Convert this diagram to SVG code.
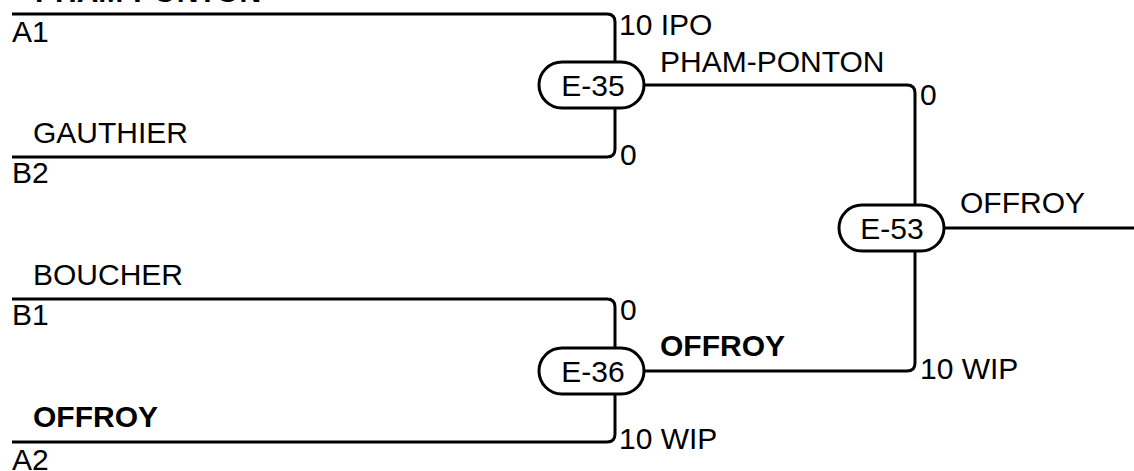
<svg xmlns="http://www.w3.org/2000/svg" width="1134" height="471" viewBox="0 0 1134 471">
<style>
.ln{fill:none;stroke:#000;stroke-width:3}
.pill{fill:#fff;stroke:#000;stroke-width:3}
text{font-family:"Liberation Sans",Arial,sans-serif;font-size:30px;fill:#000}
.b{font-weight:bold}
.c{text-anchor:middle}
</style>
<rect width="1134" height="471" fill="#fff"/>
<g id="connectors">
<path class="ln" d="M12,14 H607 Q615,14 615,22 V64"/>
<path class="ln" d="M12,157 H607 Q615,157 615,149 V106"/>
<path class="ln" d="M640,85 H907 Q915,85 915,93 V206"/>
<path class="ln" d="M640,371 H907 Q915,371 915,363 V250"/>
<path class="ln" d="M12,299 H607 Q615,299 615,307 V350"/>
<path class="ln" d="M12,442 H607 Q615,442 615,434 V392"/>
<path class="ln" d="M940,228 H1134"/>
</g>
<g id="labels">
<text x="35" y="2" class="b">PHAM-PONTON</text>
<text x="12" y="42">A1</text>
<text x="33" y="143">GAUTHIER</text>
<text x="12" y="183">B2</text>
<text x="33" y="285">BOUCHER</text>
<text x="12" y="325">B1</text>
<text x="33" y="427" class="b">OFFROY</text>
<text x="12" y="470">A2</text>
<text x="619" y="35">10 IPO</text>
<text x="660" y="72">PHAM-PONTON</text>
<text x="620" y="165">0</text>
<text x="620" y="320">0</text>
<text x="660" y="356" class="b">OFFROY</text>
<text x="619" y="449">10 WIP</text>
<text x="920" y="105">0</text>
<text x="960" y="213">OFFROY</text>
<text x="920" y="379">10 WIP</text>
</g>
<g id="E-35"><rect class="pill" x="539" y="62" width="105" height="46" rx="23"/><text x="593" y="96" class="c">E-35</text></g>
<g id="E-53"><rect class="pill" x="839" y="205" width="105" height="46" rx="23"/><text x="892" y="239" class="c">E-53</text></g>
<g id="E-36"><rect class="pill" x="539" y="348" width="105" height="46" rx="23"/><text x="593" y="382" class="c">E-36</text></g>
</svg>
